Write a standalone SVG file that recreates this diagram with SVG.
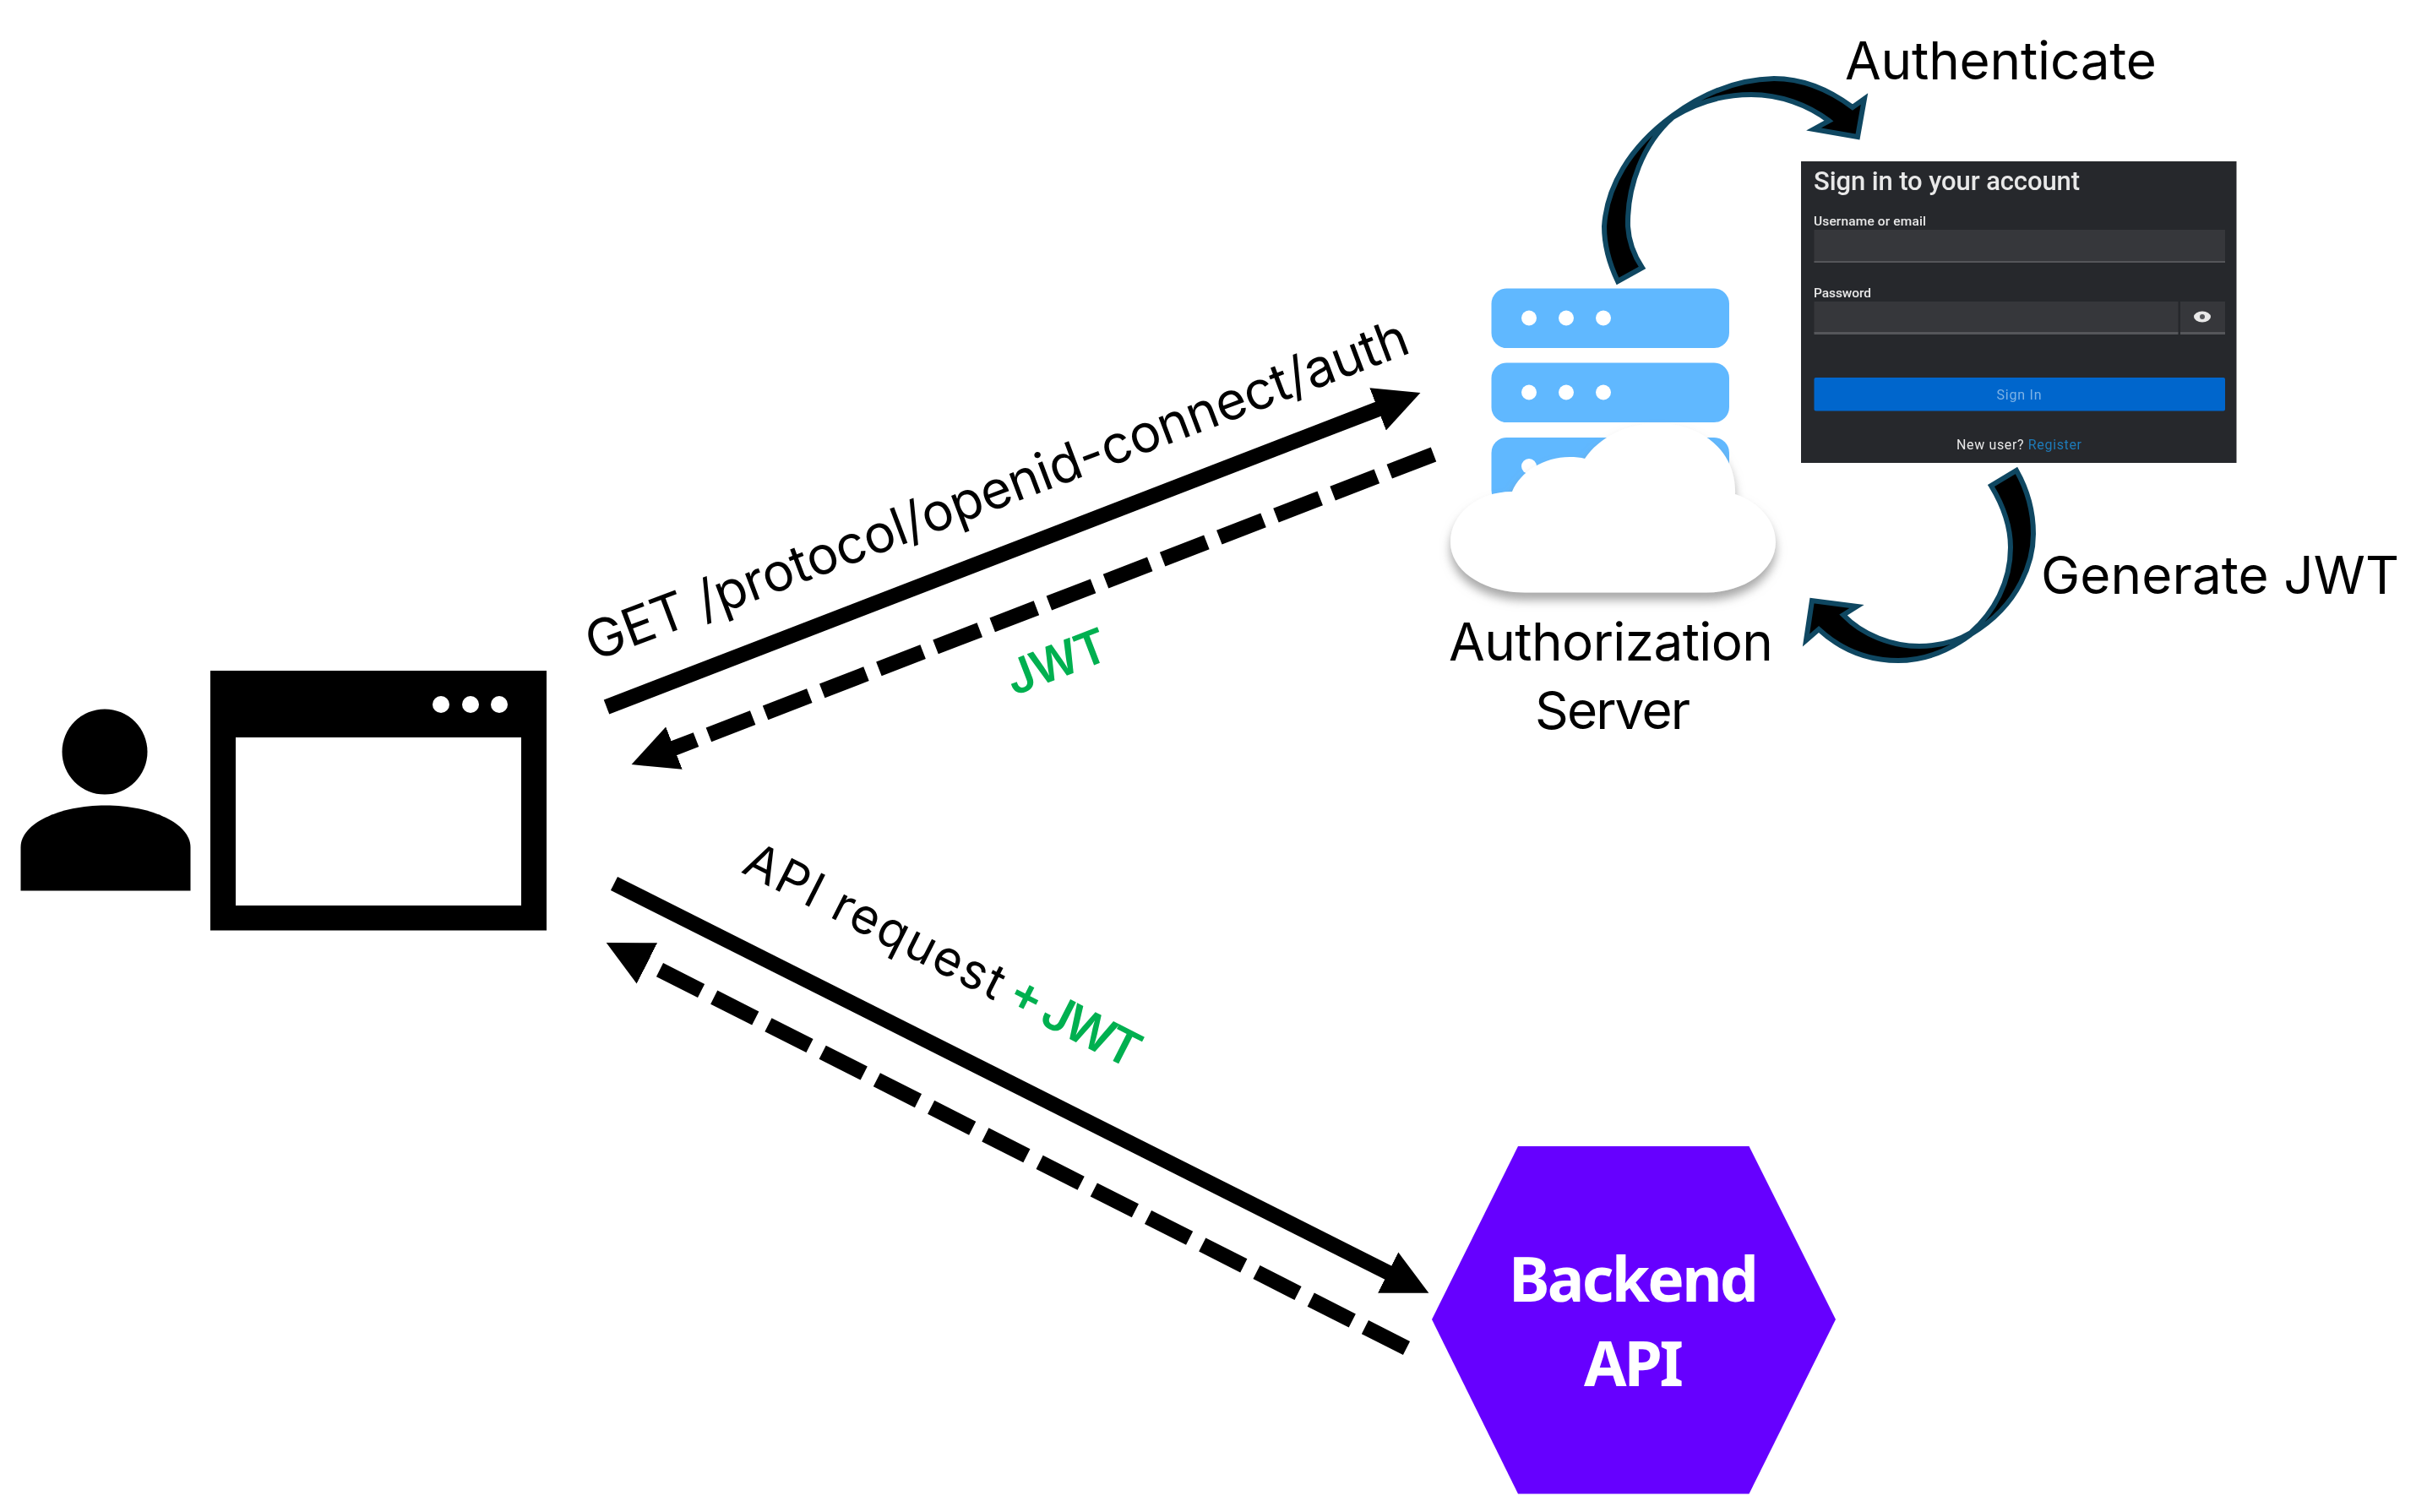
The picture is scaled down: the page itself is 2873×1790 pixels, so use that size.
<svg xmlns="http://www.w3.org/2000/svg" width="2873" height="1790" viewBox="0 0 2873 1790">
<style>
.t{font-family:Inter,"Noto Sans",sans-serif;font-size:62px;fill:#000}
.g{fill:#00B050;font-weight:600}
.ln{fill:none;stroke:#000;stroke-width:18}
.srv{fill:#60B8FF}
.dot{fill:#fff}
.curve{fill:#000;stroke:#0F4761;stroke-width:6;stroke-linejoin:miter}
.ui{font-family:Roboto,"Noto Sans",sans-serif;fill:#e8e8e8}
.fld{fill:#36373b}
.ul{fill:#55565a}
.hex{font-family:"Noto Sans",sans-serif;font-weight:700;font-size:73px;fill:#fff}
</style>
<defs>
<marker id="head" markerUnits="userSpaceOnUse" markerWidth="56" markerHeight="56" viewBox="0 -28 56 56" refX="1" refY="0" orient="auto"><path d="M0-27 54 0 0 27Z" fill="#000"/></marker>
<filter id="shadow" x="-10%" y="-10%" width="120%" height="125%"><feDropShadow dx="0" dy="9" stdDeviation="6" flood-color="#8a8a8a" flood-opacity=".75"/></filter>
<filter id="soft" x="-5%" y="-20%" width="110%" height="140%"><feGaussianBlur stdDeviation=".5"/></filter>
</defs>
<rect width="2873" height="1790" fill="#fff"/>
<g id="connectors">
<path class="ln" marker-end="url(#head)" d="M718 837 1632 484"/>
<path class="ln" marker-end="url(#head)" stroke-dasharray="56 16" d="M1697 538 797 886"/>
<path class="ln" marker-end="url(#head)" d="M727 1046 1644 1507"/>
<path class="ln" marker-end="url(#head)" stroke-dasharray="55 17" d="M1665 1596 765 1140"/>
<path id="authenticate-arrow" class="curve" d="M1915 333C1905 312 1899 290 1899 268C1902 222 1928 175 1980 137C2010 115 2050 94 2100 93C2135 93 2165 106 2193 127L2207 117 2199 162 2147 153 2165 143C2140 124 2107 112 2073 112C2040 112 2010 120 1980 139C1945 170 1926 220 1927 268C1928 285 1934 302 1944 317Z"/>
<path id="generate-arrow" class="curve" d="M2387 557C2400 580 2407 605 2407 632C2407 662 2393 715 2333 751C2305 772 2275 782 2247 782C2210 782 2180 770 2153 745L2138 758 2145 711 2198 718 2182 728C2205 752 2240 765 2272 765C2295 765 2315 760 2333 749C2360 725 2380 690 2380 648C2380 622 2371 598 2357 575Z"/>
</g>
<g id="user">
<circle cx="124" cy="890" r="50.500"/>
<path d="M24.500 1054.500V1003C24.500 975 70 953.500 125 953.500S225.500 975 225.500 1003V1054.500Z"/>
</g>
<g id="browser">
<path fill-rule="evenodd" d="M249 794H647V1101.500H249ZM279 873V1072H617V873Z"/>
<circle class="dot" cx="522" cy="834" r="10"/><circle class="dot" cx="557" cy="834" r="10"/><circle class="dot" cx="591" cy="834" r="10"/>
</g>
<g id="authorization-server">
<rect class="srv" x="1765.500" y="341.500" width="281.500" height="70.500" rx="18"/>
<rect class="srv" x="1765.500" y="429.500" width="281.500" height="70.500" rx="18"/>
<rect class="srv" x="1765.500" y="518" width="281.500" height="80" rx="18"/>
<circle class="dot" cx="1810" cy="376.500" r="9"/><circle class="dot" cx="1854" cy="376.500" r="9"/><circle class="dot" cx="1898" cy="376.500" r="9"/>
<circle class="dot" cx="1810" cy="464.500" r="9"/><circle class="dot" cx="1854" cy="464.500" r="9"/><circle class="dot" cx="1898" cy="464.500" r="9"/>
<circle class="dot" cx="1810" cy="552" r="9"/>
<path fill="#fff" filter="url(#shadow)" d="M1805 701.500C1755 701.500 1717 675 1717 642C1717 608 1750 582 1790 582C1800 558 1828 541 1858 541C1865 541 1871 541.500 1876 543C1893 518 1925 501 1962 501C2015 501 2056 535 2054 585C2083 595 2102 617 2102 642C2102 675 2065 701.500 2020 701.500Z"/>
<text class="t" x="1907" y="782" text-anchor="middle" textLength="384">Authorization</text>
<text class="t" x="1909" y="863" text-anchor="middle" textLength="184">Server</text>
</g>
<g id="login-panel">
<rect x="2132" y="191" width="515.500" height="357" fill="#26282c"/>
<rect class="fld" x="2147.500" y="272" width="486.500" height="38"/>
<rect class="ul" x="2147.500" y="309" width="486.500" height="2"/>
<rect class="fld" x="2147.500" y="357" width="431" height="37"/>
<rect class="fld" x="2581" y="357" width="53" height="37"/>
<rect class="ul" x="2147.500" y="393" width="431" height="3"/>
<rect class="ul" x="2581" y="393" width="53" height="3"/>
<rect x="2147.500" y="447" width="486.500" height="39.500" rx="2" fill="#0066CC"/>
<ellipse cx="2607" cy="375" rx="10" ry="6.500" fill="#e8e8e8"/><circle cx="2607" cy="375" r="3" fill="#55565a"/>
<g filter="url(#soft)">
<text class="ui" x="2147" y="225" font-size="31" font-weight="500" textLength="315">Sign in to your account</text>
<text class="ui" x="2147" y="267" font-size="15.500" font-weight="500" textLength="133">Username or email</text>
<text class="ui" x="2147" y="352" font-size="15.500" font-weight="500" textLength="68">Password</text>
<text class="ui" x="2390" y="473" font-size="16" text-anchor="middle" textLength="53" style="fill:#7fb3e6">Sign In</text>
<text class="ui" x="2316" y="532" font-size="16" textLength="148">New user? <tspan fill="#1e7ab8">Register</tspan></text>
</g>
</g>
<g id="backend-api">
<path fill="#6600FF" d="M1797 1357H2070.500L2173 1562 2070.500 1768.500H1797L1695 1562Z"/>
<text class="hex" x="1934" y="1541" text-anchor="middle" textLength="296">Backend</text>
<text class="hex" x="1934" y="1641" text-anchor="middle" textLength="118">API</text>
</g>
<g id="labels">
<text class="t" x="2184" y="94" textLength="369">Authenticate</text>
<text class="t" x="2416" y="703" textLength="424">Generate JWT</text>
<text class="t" transform="translate(703 783) rotate(-20.700)" textLength="1036">GET /protocol/openid-connect/auth</text>
<text class="t g" style="font-size:56px" transform="translate(1200 824) rotate(-21)" textLength="124">JWT</text>
<g transform="translate(876 1032) rotate(26.900)">
<text class="t" style="font-size:58px" textLength="338">API request</text>
<text class="t g" style="font-size:58px" x="350" textLength="168">+ JWT</text>
</g>
</g>
</svg>
